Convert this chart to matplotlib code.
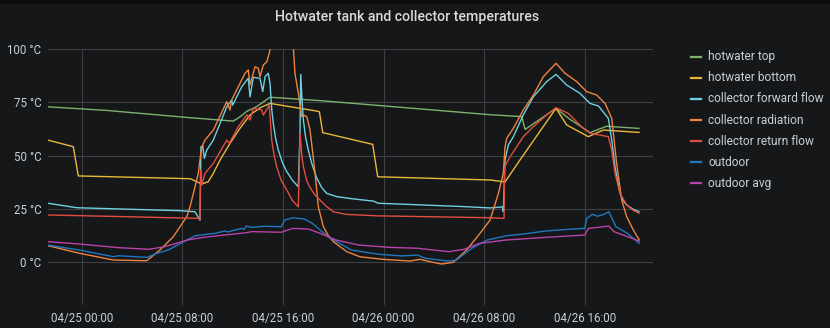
import matplotlib
matplotlib.use('Agg')
import matplotlib.pyplot as plt
import matplotlib.dates as mdates
from matplotlib.lines import Line2D
from matplotlib.patches import Rectangle
import pandas as pd

START = pd.Timestamp('2021-04-25 00:00')

# hours since 04/25 00:00 and temperatures in °C
top_h = [-2.68, 2.0, 8.61, 12.05, 12.58, 13.12, 13.91, 14.97, 18.94, 32.46, 34.98, 35.24, 37.70, 38.82, 40.41, 41.73, 43.19, 44.30]
top_t = [72.9, 71.2, 67.8, 66.2, 68.2, 70.8, 73.0, 77.4, 75.8, 69.2, 68.3, 62.3, 72.2, 67.0, 60.8, 63.8, 63.2, 62.8]

bottom_h = [-2.68, -0.67, -0.27, 8.61, 8.74, 9.54, 10.06, 10.46, 11.0, 11.79, 12.6, 13.38, 14.2, 14.97, 18.68, 18.89, 19.16, 23.13, 23.53,
            32.46, 32.85, 33.51, 33.65, 34.84, 37.70, 38.55, 40.27, 41.46, 44.30]
bottom_t = [57.3, 54.2, 40.5, 39.2, 38.9, 36.7, 37.8, 41.7, 48.0, 55.8, 63.0, 69.1, 72.5, 74.5, 70.9, 70.6, 60.8, 55.3, 40.1,
            38.6, 38.3, 37.8, 37.7, 48.0, 72.2, 64.4, 58.9, 62.0, 60.9]

fwd_h = [-2.68, -0.40, 7.81, 9.01, 9.40, 9.48, 9.62, 9.75, 9.94, 10.46, 11.53, 11.92, 12.00, 12.72, 13.24, 13.38,
         13.64, 14.17, 14.39, 14.57, 14.83, 14.97, 15.10, 15.23, 15.40, 15.63, 15.95, 16.30, 16.75, 17.22, 17.35, 17.41,
         17.52, 17.62, 17.80, 18.01, 18.28, 18.68, 19.08, 19.48, 20.27, 21.5, 23.18, 23.58, 30.07, 32.46, 33.47, 33.51,
         33.65, 33.91, 34.31, 35.10, 35.90, 36.96, 37.70, 38.55, 39.61, 40.40, 41.07, 41.86, 42.13, 42.39, 42.79,
         43.05, 43.32, 43.8, 44.30]
fwd_t = [27.7, 25.6, 24.2, 23.7, 19.8, 54.2, 54.5, 48.7, 52.6, 57.3, 72.9, 76.1, 73.7, 82.3, 86.3, 77.6,
         86.7, 86.3, 80.0, 87.0, 88.6, 83.9, 72.0, 65.2, 58.5, 52.6, 46.8, 42.5, 38.5, 35.4, 60.0, 88.1,
         75.0, 66.7, 58.5, 52.6, 46.5, 39.5, 35.0, 32.3, 30.8, 29.8, 28.7, 27.7, 26.2, 25.5, 26.0, 23.7,
         48.0, 55.0, 58.9, 69.1, 77.6, 84.7, 88.1, 83.1, 79.2, 74.5, 73.3, 67.5, 57.3, 44.8, 32.3,
         28.8, 26.9, 25.0, 23.7]

rad_h = [-2.68, -0.14, 2.51, 5.17, 6.22, 7.28, 8.35, 8.61, 9.27, 9.46, 9.62, 9.80, 10.46, 11.53, 11.79, 11.92,
         12.98, 13.24, 13.38, 13.78, 14.04, 14.17, 14.44, 14.71, 14.91, 15.05, 15.45, 16.08, 16.64, 16.82, 16.95,
         17.22, 17.49, 17.62, 17.89, 18.15, 18.35, 18.55, 18.81, 19.21, 19.6, 20.00, 21.07, 22.12, 23.97, 26.10, 26.89, 27.69,
         28.62, 29.54, 30.60, 31.66, 32.46, 33.12, 33.51, 33.65, 33.78, 34.31, 35.10, 35.90, 36.69, 37.70, 38.42,
         39.35, 40.14, 40.94, 41.60, 42.13, 42.52, 42.92, 43.32, 43.85, 44.32]
rad_t = [7.8, 4.2, 1.1, 0.75, 5.8, 12.0, 21.4, 26.0, 41.7, 51.0, 55.0, 57.3, 62.0, 75.3, 71.4, 76.1,
         88.6, 90.2, 83.1, 91.7, 90.9, 87.0, 92.5, 94.0, 98.0, 102.0, 112.0, 118.0, 110.0, 101.0, 88.6,
         79.2, 68.3, 69.0, 68.3, 62.0, 52.0, 41.7, 26.0, 16.7, 12.5, 9.7, 5.0, 2.6, 1.4, 0.6, 1.4, 0.3,
         -0.8, 0.0, 5.8, 13.6, 19.8, 32.3, 41.7, 54.2, 58.1, 62.8, 71.4, 78.4, 87.0, 93.3, 88.6,
         84.7, 80.0, 78.4, 74.5, 67.5, 46.4, 29.2, 21.4, 15.1, 10.5]

ret_h = [-2.68, 5.0, 9.27, 9.40, 9.46, 9.54, 9.80, 10.46, 11.53, 11.73, 12.45, 13.12, 13.38, 13.64, 14.31, 14.44,
         14.91, 15.10, 15.30, 15.50, 15.85, 16.30, 16.75, 17.22, 17.35, 17.50, 17.62, 17.90, 18.15, 18.55, 18.94,
         19.40, 20.00, 21.0, 23.45, 32.46, 33.57, 33.62, 34.05,
         35.10, 35.90, 36.96, 37.70, 38.68, 39.87, 40.40, 41.86, 42.13, 42.39, 42.79, 43.32, 43.8, 44.30]
ret_t = [22.2, 21.2, 20.6, 19.8, 43.3, 36.2, 41.7, 46.4, 57.3, 55.8, 63.6, 69.1, 66.7, 72.2, 71.4, 69.0,
         73.7, 57.3, 50.0, 44.8, 38.5, 33.9, 29.0, 26.0, 60.5, 50.0, 44.8, 38.0, 35.0, 31.5, 29.2,
         26.5, 23.7, 22.5, 21.8, 20.9, 20.6, 44.8, 49.5,
         58.9, 63.6, 69.1, 72.5, 69.8, 62.8, 60.5, 58.9, 52.6, 41.7, 32.3, 26.9, 24.5, 23.0]

out_h = [-2.70, -0.22, 2.56, 2.87, 5.19, 5.96, 6.89, 8.12, 9.05, 10.60, 11.4, 11.6, 12.15, 12.7, 12.9, 13.08, 13.54,
         14.5, 15.86, 16.11, 16.79, 17.71, 18.33, 19.57, 21.42, 23.59, 25.45, 26.69, 27.30, 29.16, 29.78, 31.01, 32.25,
         33.79, 35.3, 36.88, 38.5, 39.98, 40.14, 40.60, 41.0, 41.37, 41.90, 42.46, 43.38, 44.31]
out_t = [8.1, 5.8, 2.6, 3.1, 2.3, 4.2, 5.8, 9.7, 12.5, 13.6, 14.7, 14.2, 15.1, 15.9, 15.4, 17.0, 16.4,
         16.9, 16.7, 19.8, 20.9, 20.3, 18.3, 12.0, 5.8, 3.8, 3.0, 3.4, 1.9, 0.6, 1.1, 6.6, 10.5,
         12.5, 13.4, 14.7, 15.4, 15.9, 20.6, 22.5, 21.6, 22.2, 23.7, 16.7, 13.6, 8.9]

avg_h = [-2.70, -0.22, 2.87, 5.34, 6.58, 8.43, 9.67, 13.08, 13.54, 15.86, 16.79, 18.02, 18.95, 20.19, 22.04, 24.52,
         26.69, 29.16, 30.39, 31.63, 33.79, 36.88, 39.98, 40.29, 41.90, 42.30, 44.31]
avg_t = [9.7, 8.6, 6.9, 6.1, 7.3, 10.5, 11.7, 13.9, 14.4, 14.1, 15.9, 15.6, 13.6, 10.5, 8.1, 7.0,
         6.6, 5.0, 6.1, 8.9, 10.5, 11.7, 12.8, 15.9, 17.0, 14.4, 10.0]

labels = ['hotwater top', 'hotwater bottom', 'collector forward flow', 'collector radiation',
          'collector return flow', 'outdoor', 'outdoor avg']
colors = ['#7EB26D', '#EAB839', '#6ED0E0', '#EF843C', '#E24D42', '#1F78C1', '#BA43A9']
series = [(top_h, top_t), (bottom_h, bottom_t), (fwd_h, fwd_t), (rad_h, rad_t),
          (ret_h, ret_t), (out_h, out_t), (avg_h, avg_t)]
y_ticks = [0, 25, 50, 75, 100]

BG = '#161719'
TXT = '#c7d0d9'
GRID = '#3d3f43'

plt.rcParams['font.family'] = ['Roboto', 'DejaVu Sans']

W, H = 830, 328
fig = plt.figure(figsize=(W / 100, H / 100), dpi=100, facecolor=BG)
ax = fig.add_axes([48.3 / W, 1 - 305 / H, (653 - 48.3) / W, (305 - 49) / H])
ax.set_facecolor(BG)

def to_time(hs):
    return START + pd.to_timedelta(pd.Series(hs), unit='h')

for (hs, ts), c, lab in zip(series, colors, labels):
    ax.plot(to_time(hs), ts, color=c, lw=1.0, label=lab, solid_joinstyle='round')

ax.set_ylim(-20, 100)
ax.set_xlim(START + pd.Timedelta(hours=-2.655), START + pd.Timedelta(hours=45.41))
ax.set_yticks(y_ticks)
ax.set_yticklabels([f'{v} °C' for v in y_ticks])
ax.xaxis.set_major_locator(mdates.HourLocator(byhour=[0, 8, 16]))
ax.xaxis.set_major_formatter(mdates.DateFormatter('%m/%d %H:%M'))
ax.grid(True, color=GRID, lw=0.8)
ax.set_axisbelow(True)
for s in ax.spines.values():
    s.set_visible(False)
ax.tick_params(length=0, colors=TXT, labelsize=8.3)
ax.tick_params(axis='y', pad=5)
ax.tick_params(axis='x', pad=5)

fig.text(0.491, 1 - 17 / H, 'Hotwater tank and collector temperatures', ha='center', va='center',
         color='#d8d9da', fontsize=10.2, fontweight='medium')

# legend
y0 = 56.7
for i, (c, lab) in enumerate(zip(colors, labels)):
    yy = 1 - (y0 + i * 21.1) / H
    fig.add_artist(Line2D([691 / W, 701 / W], [yy, yy], color=c, lw=1.6, transform=fig.transFigure))
    fig.text(708 / W, yy, lab, ha='left', va='center', color=TXT, fontsize=8.6)

fig.add_artist(Rectangle((0, 1 - 3 / H), 1, 3 / H, color='#0b0c0e', transform=fig.transFigure))

fig.savefig('out.png', dpi=100, facecolor=BG)
